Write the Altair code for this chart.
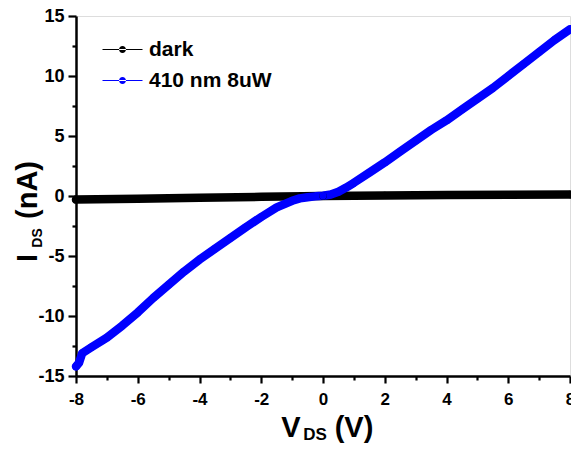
import altair as alt
import pandas as pd

# ---- data ----
v_dark = [-8.0, -6.0, -4.0, -2.0, 0.0, 2.0, 4.0, 6.0, 8.0]
i_dark = [-0.30, -0.22, -0.15, -0.07, 0.0, 0.05, 0.08, 0.10, 0.12]

v_blue = [-8.0, -7.9, -7.8, -7.5, -7.0, -6.5, -6.0, -5.5, -5.0, -4.5, -4.0,
          -3.5, -3.0, -2.5, -2.0, -1.5, -1.0, -0.75, -0.5, -0.25, 0.0, 0.25,
          0.5, 0.75, 1.0, 1.5, 2.0, 2.5, 3.0, 3.5, 4.0, 4.5, 5.0, 5.5, 6.0,
          6.5, 7.0, 7.5, 8.0]
i_blue = [-14.2, -13.9, -13.1, -12.6, -11.8, -10.8, -9.7, -8.5, -7.4, -6.3, -5.3,
          -4.4, -3.5, -2.6, -1.75, -0.95, -0.4, -0.2, -0.1, -0.03, 0.02, 0.12,
          0.35, 0.7, 1.1, 1.95, 2.8, 3.7, 4.6, 5.5, 6.3, 7.2, 8.1, 9.0, 10.0,
          11.0, 12.0, 13.0, 13.9]

series_names = ["dark", "410 nm 8uW"]
series_colors = ["#000000", "#0000FF"]

x_ticks = list(range(-8, 9))
y_ticks = [-15, -12.5, -10, -7.5, -5, -2.5, 0, 2.5, 5, 7.5, 10, 12.5, 15]

df = pd.concat([
    pd.DataFrame({"V": v_dark, "I": i_dark, "series": series_names[0], "col": series_colors[0]}),
    pd.DataFrame({"V": v_blue, "I": i_blue, "series": series_names[1], "col": series_colors[1]}),
], ignore_index=True)

one = pd.DataFrame({"k": [0]})

FONT = "Liberation Sans"

xscale = alt.Scale(domain=[-8, 8], nice=False, zero=False)
yscale = alt.Scale(domain=[-15, 15], nice=False, zero=False)

x_axis = alt.Axis(
    values=x_ticks, title=None, grid=False,
    labelExpr="datum.value % 2 === 0 ? ('' + datum.value) : ''",
    tickSize={"condition": {"test": "datum.value % 2 === 0", "value": 7}, "value": 4},
    tickWidth=2.2, tickColor="black", domainColor="black", domainWidth=2.5,
    labelFont=FONT, labelFontSize=17, labelFontWeight="bold", labelColor="black",
    labelPadding=8, labelFlush=False, labelOverlap=False,
)
y_axis = alt.Axis(
    values=y_ticks, title=None, grid=False,
    labelExpr="datum.value % 5 === 0 ? ('' + datum.value) : ''",
    tickSize={"condition": {"test": "datum.value % 5 === 0", "value": 8}, "value": 4},
    tickWidth=2.2, tickColor="black", domainColor="black", domainWidth=2.5,
    labelFont=FONT, labelFontSize=18, labelFontWeight="bold", labelColor="black",
    labelPadding=4, labelFlush=False, labelOverlap=False,
)

base = alt.Chart(df)

def line_layer(name):
    return base.transform_filter(alt.datum.series == name).mark_line(
        strokeWidth=8.5, strokeCap="round", strokeJoin="round"
    ).encode(
        x=alt.X("V:Q", scale=xscale, axis=x_axis),
        y=alt.Y("I:Q", scale=yscale, axis=y_axis),
        stroke=alt.Stroke("col:N", scale=None),
        order="V:Q",
    )

legend_path = ("M-2,-0.05 L2,-0.05 L2,0.05 L-2,0.05 Z "
               "M-0.35,0 A0.35,0.35 0 1,0 0.35,0 A0.35,0.35 0 1,0 -0.35,0 Z")

points = base.mark_point(filled=True, shape="circle", size=55, opacity=1).encode(
    x=alt.X("V:Q", scale=xscale, axis=x_axis),
    y=alt.Y("I:Q", scale=yscale, axis=y_axis),
    color=alt.Color(
        "series:N",
        scale=alt.Scale(domain=series_names, range=series_colors),
        legend=alt.Legend(
            title=None, orient="none", legendX=36, legendY=23,
            symbolType=legend_path, symbolSize=400, symbolStrokeWidth=0,
            symbolOpacity=1, labelOffset=16, rowPadding=9,
            labelFont=FONT, labelFontSize=21, labelFontWeight="bold",
            labelColor="black", padding=0,
        ),
    ),
)

txt = dict(font=FONT, fontWeight="bold", color="black", baseline="alphabetic", align="center")

def label(text, size, x, y, angle=0):
    m = alt.Chart(one).mark_text(text=text, fontSize=size, angle=angle, **txt)
    return m.encode(x=alt.value(x), y=alt.value(y))

titles = [
    label("V", 29, 215, 421),
    label("DS", 17, 239, 424),
    label("(V)", 29, 278, 421),
    label("I", 29, -39, 242, 270),
    label("DS", 14, -34, 222, 270),
    label("(nA)", 29, -39, 174, 270),
]

chart = alt.layer(
    line_layer("dark"), line_layer("410 nm 8uW"), points, *titles
).properties(
    width=494, height=360,
    autosize=alt.AutoSizeParams(type="none"),
    padding={"left": 68, "top": 8, "right": 1, "bottom": 75},
).configure_view(stroke="black", strokeWidth=2.5).configure(background="white")

chart.save("out.html", embed_options={"renderer": "svg", "actions": False})
